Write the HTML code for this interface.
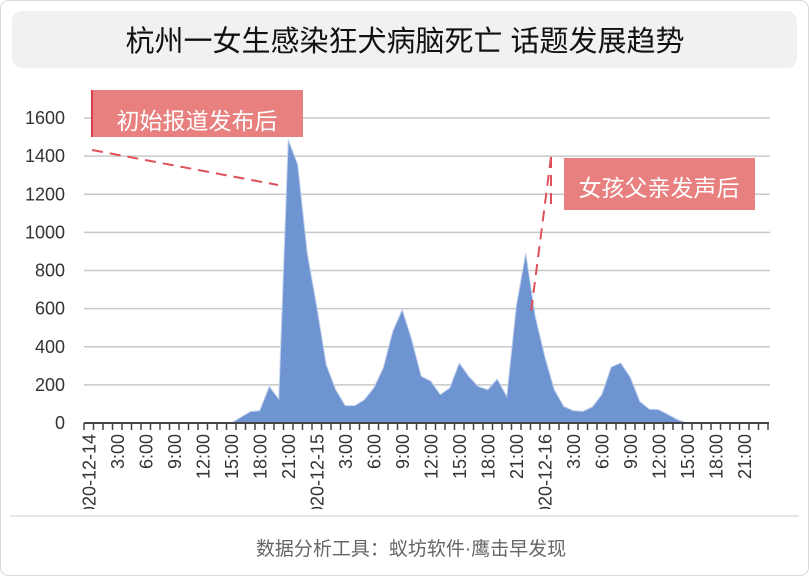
<!DOCTYPE html>
<html><head><meta charset="utf-8"><style>
body{margin:0;background:#fff;}
svg{display:block;font-family:"Liberation Sans","Noto Sans CJK SC",sans-serif;}
</style></head><body>
<svg id="chart" width="809" height="576" viewBox="0 0 809 576">
<rect x="0.5" y="0.5" width="808" height="575" rx="8" fill="#fff" stroke="#d9d9d9"/>
<rect x="12" y="11" width="785" height="57" rx="10" fill="#f1f1f1"/>
<text x="405" y="51" font-size="29" text-anchor="middle" fill="#111">杭州一女生感染狂犬病脑死亡 话题发展趋势</text>
<g id="grid"></g>
<g id="area"></g>
<g id="xaxis"></g>
<g id="ann">
<line x1="92" y1="150" x2="278" y2="185" stroke="#e0505a" stroke-width="2" stroke-dasharray="11,7"/>
<rect x="91" y="90" width="212" height="47" fill="#e98080"/>
<rect x="91" y="90" width="2" height="47" fill="#d9404a"/>
<text x="197" y="129" font-size="23" text-anchor="middle" fill="#fff">初始报道发布后</text>
<line x1="551" y1="157" x2="531" y2="312" stroke="#e0505a" stroke-width="2" stroke-dasharray="11,7"/>
<line x1="551" y1="157" x2="551" y2="210" stroke="#e0505a" stroke-width="2" stroke-dasharray="11,7"/>
<rect x="564" y="158" width="191" height="52" fill="#e98080"/>
<text x="659" y="196" font-size="23" text-anchor="middle" fill="#fff">女孩父亲发声后</text>
</g>
<line x1="10" y1="516" x2="799" y2="516" stroke="#cfcfcf"/>
<text x="411" y="555" font-size="19" text-anchor="middle" fill="#666">数据分析工具：蚁坊软件·鹰击早发现</text>
</svg>
<script>
const hours = [];
for (let i = 0; i < 72; i++) hours.push(i);
const values = [0,0,0,0,0,0,0,0,0,0,0,0,0,0,0,0,30,60,65,192,126,1487,1355,892,612,306,175,91,91,122,184,289,481,595,437,245,220,149,184,315,245,192,175,231,140,612,892,560,350,175,87,65,61,84,149,294,315,241,114,73,70,44,17,0,0,0,0,0,0,0,0,0];
const yTicks = [0,200,400,600,800,1000,1200,1400,1600];
const xLabels = ["2020-12-14","3:00","6:00","9:00","12:00","15:00","18:00","21:00","2020-12-15","3:00","6:00","9:00","12:00","15:00","18:00","21:00","2020-12-16","3:00","6:00","9:00","12:00","15:00","18:00","21:00"];
const NS="http://www.w3.org/2000/svg";
const X0=84,X1=768,Y0=423,Y1=118,YMAX=1600;
const step=(X1-X0)/hours.length;
const xs=i=>X0+step*(i+0.5);
const ys=v=>Y0-(v/YMAX)*(Y0-Y1);
function mk(t,a,p){const e=document.createElementNS(NS,t);for(const k in a)e.setAttribute(k,a[k]);p.appendChild(e);return e;}
const grid=document.getElementById('grid');
yTicks.forEach(v=>{
  if(v>0){const l=mk('line',{x1:X0,x2:770,y1:ys(v),y2:ys(v),stroke:'#c8c8c8','stroke-width':1.5},grid);
  
  }
  const t=mk('text',{x:65,y:ys(v)+6,'font-size':18,'text-anchor':'end',fill:'#333'},grid);
  t.textContent=v;
  
  
});
const area=document.getElementById('area');
let d='M'+xs(0)+','+Y0;
values.forEach((v,i)=>{d+=' L'+xs(i)+','+ys(v);});
d+=' L'+xs(values.length-1)+','+Y0+' Z';
const p=mk('path',{d:d,fill:'#6f94d2',stroke:'#c5d3ee','stroke-width':1},area);


const xa=document.getElementById('xaxis');
const ax=mk('line',{x1:X0,x2:X1+1,y1:Y0,y2:Y0,stroke:'#444','stroke-width':2},xa);


for(let i=0;i<=hours.length;i++){
  const tk=mk('line',{x1:X0+step*i,x2:X0+step*i,y1:Y0,y2:Y0+7,stroke:'#444','stroke-width':1.5},xa);
  
  
}
const clip=mk('clipPath',{id:'xc'},xa);mk('rect',{x:0,y:424,width:809,height:85},clip);
const lg=mk('g',{'clip-path':'url(#xc)'},xa);
xLabels.forEach((s,k)=>{
  const x=xs(k*3)+6.5,y=434;
  const t=mk('text',{x:x,y:y,'font-size':18,'text-anchor':'end',fill:'#333',transform:'rotate(-90 '+x+' '+y+')'},lg);
  t.textContent=s;
  
  
});
</script>
</body></html>
